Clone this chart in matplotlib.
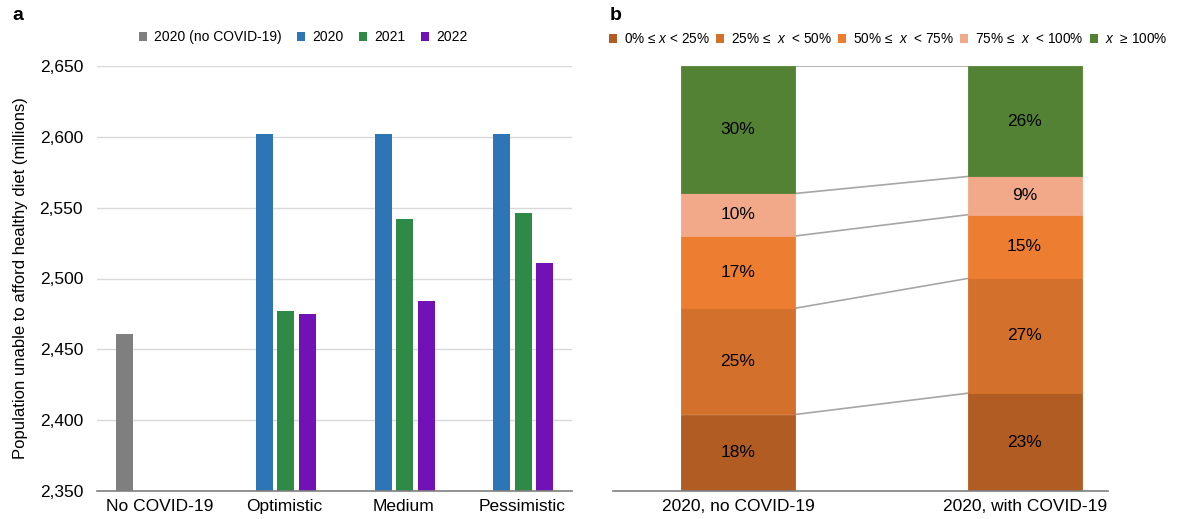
import matplotlib
matplotlib.use("Agg")
import matplotlib.pyplot as plt
from matplotlib.patches import Patch
import numpy as np

plt.rcParams['font.family'] = ['Liberation Sans', 'DejaVu Sans']
plt.rcParams['mathtext.fontset'] = 'custom'
plt.rcParams['mathtext.it'] = 'Liberation Sans:italic'
plt.rcParams['mathtext.rm'] = 'Liberation Sans'

# ---------- data panel a ----------
scenarios = ["No COVID-19", "Optimistic", "Medium", "Pessimistic"]
series_names = ["2020 (no COVID-19)", "2020", "2021", "2022"]
val_nocovid = [2461, None, None, None]
val_2020 = [None, 2602, 2602, 2602]
val_2021 = [None, 2477, 2542, 2546]
val_2022 = [None, 2475, 2484, 2511]
yticks_a = [2350, 2400, 2450, 2500, 2550, 2600, 2650]

# ---------- data panel b ----------
b_categories = ["2020, no COVID-19", "2020, with COVID-19"]
b_bins = ["0% ≤ $x$ < 25%", "25% ≤  $x$  < 50%", "50% ≤  $x$  < 75%",
          "75% ≤  $x$  < 100%", "$x$  ≥ 100%"]
b_no_covid = [18, 25, 17, 10, 30]
b_with_covid = [23, 27, 15, 9, 26]

colors_a = ["#7f7f7f", "#2e75b6", "#2f8a47", "#7012b5"]
colors_b = ["#b05c22", "#d2702c", "#ed7d31", "#f1a98a", "#548235"]

fig = plt.figure(figsize=(11.8, 5.19), dpi=100)

# ---------- panel a ----------
axa = fig.add_axes([97/1180, 1-491/519, (572-97)/1180, (491-66)/519])
x = np.arange(len(scenarios))
slot = 0.181
bw = 0.143
all_series = [val_nocovid, val_2020, val_2021, val_2022]
for k, (vals, col) in enumerate(zip(all_series, colors_a)):
    offs = (k - 1.5) * slot
    xs = [xi + offs for xi, v in zip(x, vals) if v is not None]
    hs = [v - 2350 for v in vals if v is not None]
    axa.bar(xs, hs, bottom=2350, width=bw, color=col, zorder=3)
axa.set_xlim(-0.5, 3.5)
axa.set_ylim(2350, 2650)
axa.set_yticks(yticks_a)
axa.set_yticklabels([f"{v:,}" for v in yticks_a], fontsize=12.5)
axa.tick_params(axis='y', length=0, pad=10)
axa.set_xticks(x + np.array([0.03, 0.08, 0.08, 0.08]))
axa.set_xticklabels(scenarios, fontsize=12.5)
axa.tick_params(axis='x', length=0, pad=6)
axa.grid(axis='y', color='#d9d9d9', linewidth=1, zorder=0)
for s in ['top', 'right', 'left']:
    axa.spines[s].set_visible(False)
axa.spines['bottom'].set_color('#7f7f7f')
axa.spines['bottom'].set_linewidth(1.2)
axa.spines['bottom'].set_zorder(4)
axa.set_ylabel("Population unable to afford healthy diet (millions)", fontsize=12, labelpad=8)

handles_a = [Patch(facecolor=c, edgecolor='none') for c in colors_a]
axa.legend(handles_a, series_names, loc='center', bbox_to_anchor=(303/1180, 1-37/519),
           bbox_transform=fig.transFigure, ncol=4, frameon=False, fontsize=10,
           handlelength=0.6, handleheight=0.6, handletextpad=0.5, columnspacing=1.1)

fig.text(12/1180, 1-15/519, "a", fontsize=14, fontweight='bold', va='center', ha='left')

# ---------- panel b ----------
axb = fig.add_axes([613/1180, 1-491/519, (1108-613)/1180, (491-66)/519])
xb = np.array([0, 1])
bwb = 0.398
bottoms = np.zeros(2)
tops_list = []
for i in range(len(b_bins)):
    h = np.array([b_no_covid[i], b_with_covid[i]], dtype=float)
    axb.bar(xb, h, bottom=bottoms, width=bwb, color=colors_b[i], edgecolor=colors_b[i],
            linewidth=0.6, zorder=3)
    for j in range(2):
        axb.text(xb[j], bottoms[j] + h[j] / 2, f"{int(h[j])}%", ha='center', va='center',
                 fontsize=12.5, color='black', zorder=4)
    bottoms = bottoms + h
    tops_list.append(bottoms.copy())
for t in tops_list:
    axb.plot([xb[0] + bwb / 2, xb[1] - bwb / 2], [t[0], t[1]], color='#a6a6a6', linewidth=1.2, zorder=2)
axb.set_xlim(-0.436, 1.291)
axb.set_ylim(0, 100)
axb.set_yticks([])
axb.set_xticks(xb)
axb.set_xticklabels(b_categories, fontsize=12.5)
axb.tick_params(axis='x', length=0, pad=6)
for s in ['top', 'right', 'left']:
    axb.spines[s].set_visible(False)
axb.spines['bottom'].set_color('#7f7f7f')
axb.spines['bottom'].set_linewidth(1.2)
axb.spines['bottom'].set_zorder(4)

handles_b = [Patch(facecolor=c, edgecolor='none') for c in colors_b]
axb.legend(handles_b, b_bins, loc='center', bbox_to_anchor=(888/1180, 1-39/519),
           bbox_transform=fig.transFigure, ncol=5, frameon=False, fontsize=9.8,
           handlelength=0.6, handleheight=0.6, handletextpad=0.5, columnspacing=0.45)

fig.text(610/1180, 1-15/519, "b", fontsize=14, fontweight='bold', va='center', ha='left')

fig.savefig("out.png", dpi=100)
